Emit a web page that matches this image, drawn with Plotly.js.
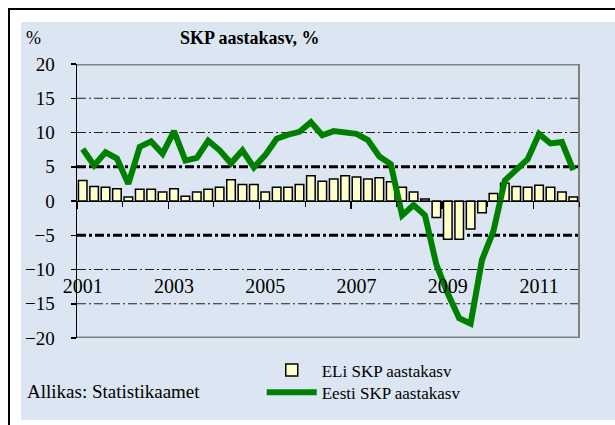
<!DOCTYPE html>
<html>
<head>
<meta charset="utf-8">
<script src="https://cdn.plot.ly/plotly-3.0.1.min.js"></script>
<style>
  html, body { margin: 0; padding: 0; background: #fff; overflow: hidden; width: 615px; height: 425px; }
  #frame { position: absolute; left: 8px; top: 8px; width: 640px; height: 440px; border: 2px solid #000; box-sizing: border-box; }
  #chart { position: absolute; left: 21px; top: 22px; width: 594px; height: 398px; }
</style>
</head>
<body>
<div id="frame"></div>
<div id="chart"></div>
<script>
// ---- data ----
const years = [2001, 2002, 2003, 2004, 2005, 2006, 2007, 2008, 2009, 2010, 2011];
const quarterNames = ['I', 'II', 'III', 'IV'];
const categories = years.flatMap(y => quarterNames.map(q => y + ' ' + q));

// EU GDP annual growth, %
const euGrowth = [3.0, 2.1, 2.0, 1.8, 0.6, 1.7, 1.7, 1.3, 1.8, 0.7, 1.3, 1.7,
                  2.0, 3.1, 2.4, 2.4, 1.3, 2.0, 2.0, 2.4, 3.7, 2.9, 3.2, 3.7,
                  3.5, 3.2, 3.4, 2.8, 2.0, 1.3, 0.3, -2.4, -5.6, -5.6, -4.1, -1.7,
                  1.1, 2.6, 2.1, 2.0, 2.3, 2.0, 1.3, 0.6];
// Estonia GDP annual growth, %
const estGrowth = [7.6, 5.2, 7.1, 6.2, 2.5, 7.9, 8.7, 6.9, 10.2, 5.9, 6.3, 8.8,
                   7.4, 5.5, 7.4, 4.9, 6.7, 9.1, 9.7, 10.1, 11.5, 9.6, 10.2, 10.1,
                   9.8, 8.9, 6.5, 5.4, -2.1, -0.6, -2.1, -9.3, -13.5, -17.1, -17.9, -8.6,
                   -4.4, 3.0, 4.5, 6.1, 9.8, 8.4, 8.6, 4.5];

const yearLabels = ['2001', '2003', '2005', '2007', '2009', '2011'];
const yTicks = [-20, -15, -10, -5, 0, 5, 10, 15, 20];
const gridThin = [-15, -10, 10, 15];
const gridThick = [-5, 5];
const gridEdge = [-20, 20];

const seriesNames = ['ELi SKP aastakasv', 'Eesti SKP aastakasv'];

// ---- build ----
const FONT = 'Liberation Serif';
const idx = categories.map((c, i) => i);
const labelPos = yearLabels.map(y => categories.indexOf(y + ' I'));

const traces = [
  {
    type: 'bar', x: idx, y: euGrowth, name: seriesNames[0], xaxis: 'x', yaxis: 'y', legend: 'legend',
    marker: { color: '#ffffcc', line: { color: '#000', width: 1.5 } },
    hoverinfo: 'skip'
  },
  {
    type: 'scatter', mode: 'lines', x: idx, y: estGrowth, name: seriesNames[1], xaxis: 'x2', yaxis: 'y', legend: 'legend2',
    line: { color: '#008000', width: 6 },
    hoverinfo: 'skip'
  }
];

const shapes = [];
gridThin.forEach(v => shapes.push({ type: 'line', xref: 'paper', x0: 0, x1: 1, yref: 'y', y0: v, y1: v, layer: 'below',
  line: { color: '#222', width: 1, dash: '9px,3px,2px,3px' } }));
gridThick.forEach(v => shapes.push({ type: 'line', xref: 'paper', x0: 0, x1: 1, yref: 'y', y0: v, y1: v, layer: 'below',
  line: { color: '#000', width: 3, dash: '9px,3px,3px,3px' } }));
gridEdge.forEach(v => shapes.push({ type: 'line', xref: 'paper', x0: 0, x1: 1, yref: 'y', y0: v, y1: v, layer: 'below',
  line: { color: '#808080', width: 3 } }));
shapes.push({ type: 'line', xref: 'paper', x0: 1, x1: 1, yref: 'paper', y0: 0, y1: 1, layer: 'below',
  line: { color: '#808080', width: 2 } });

const legendBase = { x: 0.368, xanchor: 'left', yanchor: 'middle', bgcolor: 'rgba(0,0,0,0)',
  font: { size: 17, family: FONT }, itemwidth: 50, borderwidth: 0 };

const layout = {
  width: 594, height: 398,
  margin: { l: 56, r: 36, t: 42, b: 82, autoexpand: false },
  paper_bgcolor: '#dce6f2', plot_bgcolor: '#dce6f2',
  font: { family: FONT, color: '#000', size: 18 },
  bargap: 0.25,
  showlegend: true,
  title: { text: '<b>SKP aastakasv, %</b>', xref: 'container', yref: 'container', x: 0.385, y: 0.96,
           xanchor: 'center', yanchor: 'middle', font: { size: 18, family: FONT, color: '#000' } },
  xaxis: {
    range: [-0.5, 43.5], anchor: 'free', position: 0.5,
    showline: true, linecolor: '#000', linewidth: 1,
    ticks: 'outside', tickmode: 'linear', tick0: -0.5, dtick: 8, ticklen: 7, tickwidth: 1.5, tickcolor: '#000',
    minor: { ticks: 'outside', tick0: -0.5, dtick: 4, ticklen: 5, tickwidth: 1, tickcolor: '#000', showgrid: false },
    showticklabels: false, showgrid: false, zeroline: false, fixedrange: true
  },
  xaxis2: {
    overlaying: 'x', matches: 'x', anchor: 'free', position: 0.24,
    showline: false, ticks: '', tickmode: 'array', tickvals: labelPos, ticktext: yearLabels,
    showgrid: false, zeroline: false, tickfont: { size: 20, family: FONT }
  },
  yaxis: {
    range: [-20, 20], tickmode: 'array', tickvals: yTicks,
    showline: true, linecolor: '#000', linewidth: 1.5,
    ticks: 'outside', ticklen: 5, tickcolor: '#000', tickwidth: 1.5,
    showgrid: false, zeroline: false, ticklabelstandoff: 12, tickfont: { size: 19, family: FONT }
  },
  legend: Object.assign({}, legendBase, { y: -0.118 }),
  legend2: Object.assign({}, legendBase, { y: -0.2 }),
  shapes: shapes,
  annotations: [
    { text: '%', xref: 'paper', yref: 'paper', x: -0.086, y: 1.095, xanchor: 'center', yanchor: 'middle',
      showarrow: false, font: { size: 18, family: FONT } },
    { text: 'Allikas: Statistikaamet', xref: 'paper', yref: 'paper', x: -0.104, y: -0.197, xanchor: 'left', yanchor: 'middle',
      showarrow: false, font: { size: 19, family: FONT } }
  ]
};

Plotly.newPlot('chart', traces, layout, { staticPlot: true, displayModeBar: false });
</script>
</body>
</html>
